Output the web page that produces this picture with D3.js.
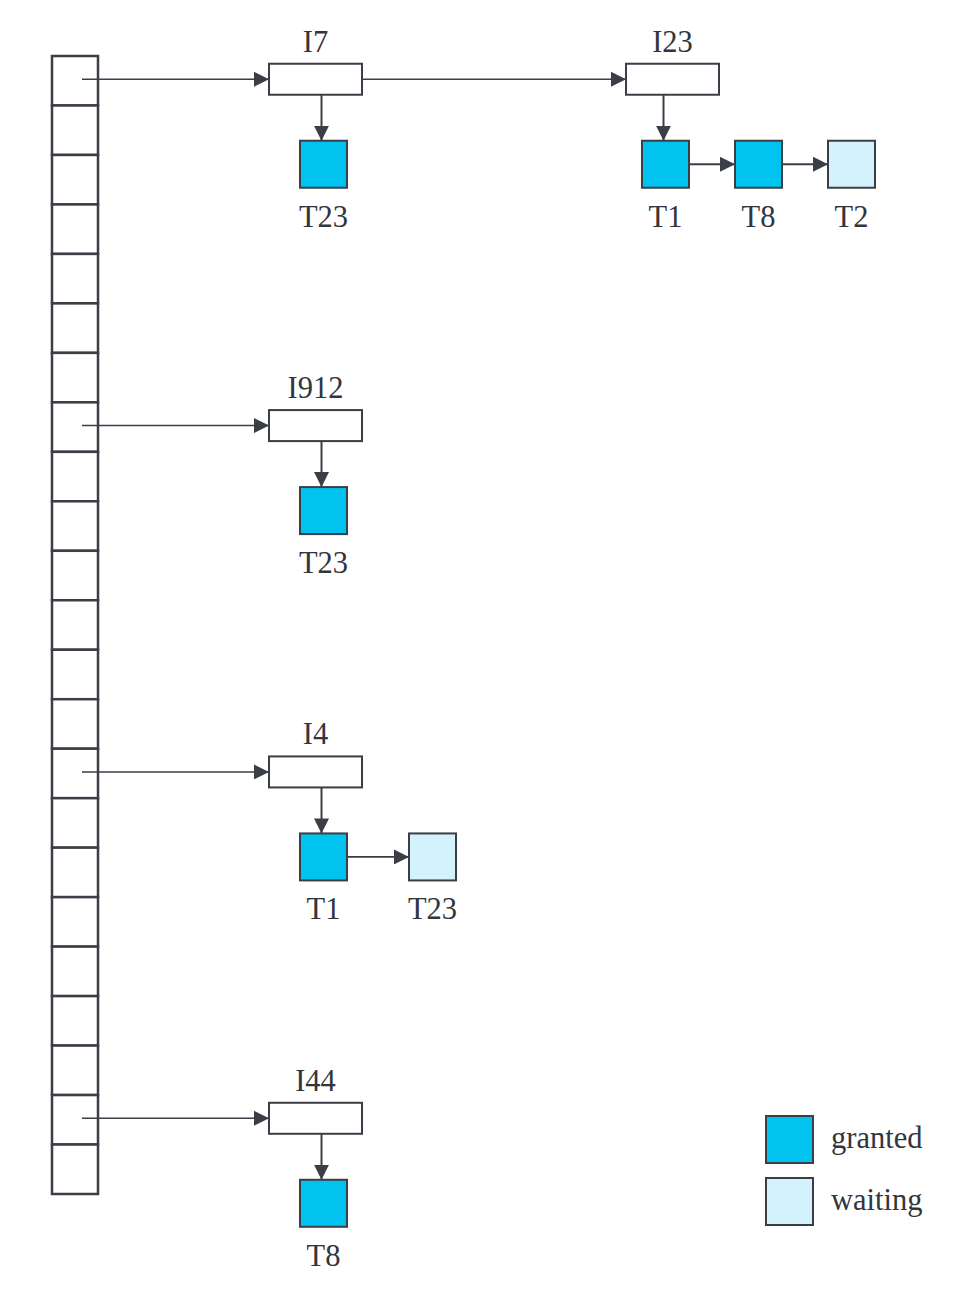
<!DOCTYPE html>
<html>
<head>
<meta charset="utf-8">
<script src="https://cdn.jsdelivr.net/npm/d3@7"></script>
<style>
  html, body { margin: 0; padding: 0; background: #fff; }
  svg { display: block; }
</style>
</head>
<body>
<svg id="chart" width="962" height="1298"></svg>
<script>
// ---- data ----
const bucketCount = 23;
const locks = ["I7", "I23", "I912", "I4", "I44"];
const lockBucket = [0, 0, 7, 14, 21];
const lockChainPos = [0, 1, 0, 0, 0];
const requestTxns = [["T23"], ["T1", "T8", "T2"], ["T23"], ["T1", "T23"], ["T8"]];
const requestStatus = [["granted"], ["granted", "granted", "waiting"], ["granted"], ["granted", "waiting"], ["granted"]];
const legendLabels = ["granted", "waiting"];

// ---- styles ----
const stroke = "#3b3e46";
const textColor = "#33353d";
const fillColor = d3.scaleOrdinal().domain(legendLabels).range(["#00c3f0", "#d4f2fc"]);
const font = "'Liberation Serif', 'Times New Roman', serif";
const fontSize = 30.5;

const svg = d3.select("#chart");
const defs = svg.append("defs");
defs.append("marker")
  .attr("id", "arrow").attr("viewBox", "0 0 10 10")
  .attr("refX", 10).attr("refY", 5)
  .attr("markerWidth", 15).attr("markerHeight", 15)
  .attr("markerUnits", "userSpaceOnUse")
  .attr("orient", "auto")
  .append("path").attr("d", "M0,0 L10,5 L0,10 Z").attr("fill", stroke);

// ---- scales ----
const buckets = d3.range(bucketCount);
const yBucket = d3.scaleBand().domain(buckets).range([56, 1194]);
const xChain = d3.scaleLinear().domain([0, 1]).range([269, 626]);
const tableX = 52, tableW = 46;
const lockW = 93, lockH = 31, sq = 47;
const firstOffset = d3.scaleOrdinal().domain([0, 1]).range([31, 16]);
const stepByPos = d3.scaleOrdinal().domain([0, 1]).range([109, 93]);

// ---- hash table ----
const table = svg.append("g");
table.selectAll("rect").data(buckets).join("rect")
  .attr("x", tableX).attr("y", d => yBucket(d))
  .attr("width", tableW).attr("height", yBucket.bandwidth())
  .attr("fill", "#fff").attr("stroke", stroke).attr("stroke-width", 2.5);

// ---- locks ----
const lockData = locks.map((name, i) => {
  const cy = yBucket(lockBucket[i]) + yBucket.bandwidth() / 2 - 1.5;
  const x = xChain(lockChainPos[i]);
  const pos = lockChainPos[i];
  const y = cy - lockH / 2;
  const reqs = requestTxns[i].map((t, j) => ({
    txn: t, status: requestStatus[i][j],
    x: x + firstOffset(pos) + j * stepByPos(pos),
    y: y + lockH + 46
  }));
  return { name, x, y, cy, pos, bucket: lockBucket[i], reqs };
});

const g = svg.append("g");

// arrows from hash table (first lock in each chain)
const heads = lockData.filter(d => d.pos === 0);
g.selectAll("line.tbl").data(heads).join("line")
  .attr("class", "tbl")
  .attr("x1", 82).attr("x2", d => d.x)
  .attr("y1", d => d.cy).attr("y2", d => d.cy)
  .attr("stroke", stroke).attr("stroke-width", 1.5)
  .attr("marker-end", "url(#arrow)");

// arrows between chained locks
lockData.forEach((d, i) => {
  if (d.pos > 0) {
    const prev = lockData[i - 1];
    g.append("line")
      .attr("x1", prev.x + lockW).attr("x2", d.x)
      .attr("y1", d.cy).attr("y2", d.cy)
      .attr("stroke", stroke).attr("stroke-width", 1.5)
      .attr("marker-end", "url(#arrow)");
  }
});

// lock boxes
g.selectAll("rect.lock").data(lockData).join("rect")
  .attr("class", "lock")
  .attr("x", d => d.x).attr("y", d => d.y)
  .attr("width", lockW).attr("height", lockH)
  .attr("fill", "#fff").attr("stroke", stroke).attr("stroke-width", 2);

g.selectAll("text.lock").data(lockData).join("text")
  .attr("class", "lock")
  .attr("x", d => d.x + lockW / 2).attr("y", d => d.y - 12)
  .attr("text-anchor", "middle")
  .attr("font-family", font).attr("font-size", fontSize)
  .attr("fill", textColor)
  .text(d => d.name);

// vertical arrows lock -> first request
g.selectAll("line.down").data(lockData).join("line")
  .attr("class", "down")
  .attr("x1", d => d.reqs[0].x + sq / 2 - 2).attr("x2", d => d.reqs[0].x + sq / 2 - 2)
  .attr("y1", d => d.y + lockH).attr("y2", d => d.reqs[0].y)
  .attr("stroke", stroke).attr("stroke-width", 2)
  .attr("marker-end", "url(#arrow)");

// request queue
lockData.forEach(d => {
  d.reqs.forEach((r, j) => {
    if (j > 0) {
      const p = d.reqs[j - 1];
      g.append("line")
        .attr("x1", p.x + sq).attr("x2", r.x)
        .attr("y1", r.y + sq / 2).attr("y2", r.y + sq / 2)
        .attr("stroke", stroke).attr("stroke-width", 1.8)
        .attr("marker-end", "url(#arrow)");
    }
  });
  g.selectAll(null).data(d.reqs).join("rect")
    .attr("x", r => r.x).attr("y", r => r.y)
    .attr("width", sq).attr("height", sq)
    .attr("fill", r => fillColor(r.status))
    .attr("stroke", stroke).attr("stroke-width", 2);
  g.selectAll(null).data(d.reqs).join("text")
    .attr("x", r => r.x + sq / 2).attr("y", r => r.y + sq + 39)
    .attr("text-anchor", "middle")
    .attr("font-family", font).attr("font-size", fontSize)
    .attr("fill", textColor)
    .text(r => r.txn);
});

// ---- legend ----
const yLegend = d3.scalePoint().domain(legendLabels).range([1116, 1178]);
const leg = svg.append("g");
leg.selectAll("rect").data(legendLabels).join("rect")
  .attr("x", 766).attr("y", d => yLegend(d))
  .attr("width", sq).attr("height", sq)
  .attr("fill", d => fillColor(d))
  .attr("stroke", stroke).attr("stroke-width", 2);
leg.selectAll("text").data(legendLabels).join("text")
  .attr("x", 831).attr("y", d => yLegend(d) + 32)
  .attr("font-family", font).attr("font-size", fontSize)
  .attr("fill", textColor)
  .text(d => d);
</script>
</body>
</html>
